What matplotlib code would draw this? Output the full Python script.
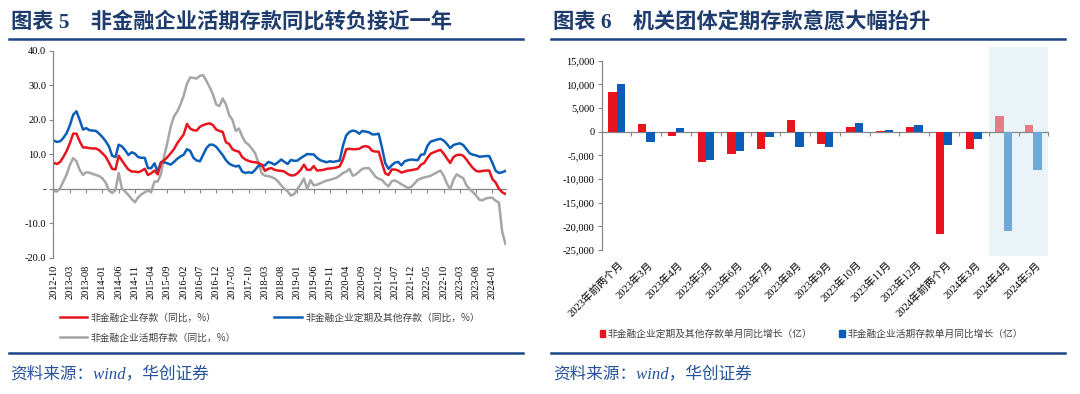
import numpy as np
import pandas as pd
import matplotlib
matplotlib.use('Agg')
import matplotlib.pyplot as plt
from matplotlib.lines import Line2D
from matplotlib.patches import Patch
from matplotlib.ticker import FuncFormatter

plt.rcParams['font.family'] = ['Liberation Serif', 'Noto Sans CJK SC']
plt.rcParams['axes.unicode_minus'] = False

# ---- 图表5: 同比 (%) , 2012-10 ~ 2024-05 ----
months = pd.date_range('2012-10-01', periods=140, freq='MS').strftime('%Y-%m').tolist()

deposit_yoy = [7.5, 7.2, 7.8, 9.3, 11.0, 13.3, 16.0, 16.0, 13.8, 12.0,
               12.0, 11.8, 11.7, 11.7, 11.2, 10.3, 9.3, 7.6, 5.8, 5.6,
               9.6, 8.2, 6.8, 5.6, 5.0, 5.0, 4.8, 5.2, 5.8, 4.0,
               4.5, 5.3, 4.2, 7.5, 8.3, 9.2, 10.3, 11.5, 13.2, 14.5,
               15.8, 18.8, 17.5, 17.0, 16.9, 18.0, 18.5, 18.8, 19.0, 18.5,
               17.2, 16.8, 16.5, 13.5, 13.0, 11.5, 11.0, 10.8, 9.2, 8.5,
               8.1, 7.8, 7.7, 7.5, 7.0, 5.2, 5.8, 6.0, 5.5, 5.3,
               5.2, 5.0, 4.3, 3.9, 3.9, 4.5, 5.5, 7.0, 5.5, 5.5,
               6.6, 5.3, 5.4, 5.5, 5.8, 5.9, 6.0, 6.2, 6.5, 8.5,
               11.5, 11.6, 11.5, 11.5, 11.6, 12.2, 12.4, 12.1, 11.0, 10.8,
               10.8, 7.5, 4.5, 4.0, 5.6, 5.6, 5.3, 4.7, 5.0, 5.3,
               5.4, 5.6, 5.8, 7.0, 7.5, 9.0, 10.2, 10.6, 11.0, 11.3,
               10.2, 8.8, 7.5, 9.2, 9.8, 9.9, 9.6, 8.5, 7.2, 6.0,
               5.2, 5.0, 5.2, 5.3, 5.3, 2.8, 1.8, 0.0, -1.0, -1.5]

term_yoy = [14.0, 13.6, 13.8, 14.8, 16.2, 18.5, 21.5, 22.5, 20.0, 17.2,
            17.6, 17.0, 16.9, 16.8, 16.0, 15.0, 13.8, 12.3, 9.6, 9.2,
            12.8, 12.3, 11.2, 9.8, 10.6, 10.2, 9.2, 9.0, 9.0, 6.0,
            6.0, 7.4, 5.0, 7.8, 7.7, 7.4, 7.0, 7.8, 8.7, 9.4,
            9.9, 11.5, 11.0, 9.0, 8.2, 8.0, 9.9, 11.8, 12.8, 12.8,
            12.2, 11.0, 9.8, 8.3, 7.3, 6.8, 6.5, 6.7, 5.0, 4.6,
            4.8, 4.6, 5.5, 6.7, 6.8, 6.8, 7.8, 7.5, 7.0, 7.7,
            8.5, 7.8, 7.2, 8.4, 8.1, 8.2, 8.9, 9.5, 10.1, 10.0,
            10.0, 9.0, 8.3, 8.0, 7.7, 8.0, 7.8, 8.0, 8.2, 12.5,
            15.5, 16.5, 16.9, 16.7, 16.0, 16.8, 16.6, 16.4, 15.8, 15.8,
            16.0, 12.0, 7.5, 5.8, 6.8, 7.6, 7.8, 6.8, 8.0, 8.3,
            8.5, 8.4, 8.3, 9.9, 10.0, 12.5, 13.7, 14.0, 14.3, 14.5,
            14.0, 13.0, 11.8, 12.7, 13.0, 13.2, 12.7, 11.5, 10.3, 9.9,
            9.7, 9.3, 9.4, 9.5, 9.5, 7.5, 5.2, 4.6, 4.8, 5.2]

demand_yoy = [-0.6, -0.8, 0.2, 2.2, 4.2, 7.0, 8.9, 8.0, 5.5, 4.0,
              4.8, 4.7, 4.3, 4.0, 3.7, 3.0, 1.8, -0.5, -1.2, -0.4,
              4.6, 0.0, -0.8, -1.8, -3.0, -3.9, -2.5, -1.6, -1.0, -0.6,
              -0.9, 2.1, 2.1, 4.3, 9.5, 13.5, 18.0, 21.0, 22.4, 24.5,
              27.0, 30.5, 32.3, 32.2, 32.0, 32.8, 33.0, 31.3, 29.5, 27.4,
              24.5, 24.0, 26.2, 24.5, 21.4, 20.0, 16.8, 17.5, 15.2, 13.5,
              12.8, 11.6, 10.3, 7.5, 4.5, 3.8, 3.7, 3.4, 3.0, 2.2,
              1.0, 0.0, -0.8, -2.0, -1.5, 0.0, 1.3, 3.0, -0.1, 2.5,
              1.0, 1.2, 1.6, 2.0, 2.4, 2.6, 2.9, 3.2, 3.8, 4.6,
              5.0, 5.8, 3.8, 4.2, 5.0, 5.8, 6.0, 6.0, 4.8, 3.5,
              2.9, 2.6, 1.5, 0.7, 2.2, 2.4, 1.9, 1.3, 0.8, 0.2,
              0.6, 1.5, 2.6, 3.0, 3.3, 3.5, 3.8, 4.3, 4.8, 5.3,
              3.8, 1.5, -0.1, 2.6, 4.2, 3.6, 3.1, 1.0, -0.1, -1.0,
              -2.0, -3.2, -3.3, -2.8, -2.6, -2.6, -3.5, -4.0, -12.5, -16.0]

line_labels = ['非金融企业存款（同比，%）',
               '非金融企业定期及其他存款（同比，%）',
               '非金融企业活期存款（同比，%）']

# ---- 图表6: 单月同比增长 (亿) ----
bar_cats = ['2023年前两个月', '2023年3月', '2023年4月', '2023年5月', '2023年6月',
            '2023年7月', '2023年8月', '2023年9月', '2023年10月', '2023年11月',
            '2023年12月', '2024年前两个月', '2024年3月', '2024年4月', '2024年5月']
term_chg = [8300, 1630, -850, -6450, -4680, -3760, 2550, -2550, 920, 200,
            1060, -21700, -3760, 3400, 1350]
demand_chg = [10070, -2200, 700, -6030, -4040, -1130, -3260, -3260, 1900, 300,
              1350, -2840, -1630, -21000, -8160]
bar_labels = ['非金融企业定期及其他存款单月同比增长（亿）',
              '非金融企业活期存款单月同比增长（亿）']
n_highlight = 2

W, H = 1080, 394
fig = plt.figure(figsize=(W / 100, H / 100), dpi=100)


def fx(px):
    return px / W


def fy(py):
    return 1 - py / H


navy = '#1B4584'
title_c = '#1E3C6E'
src_c = '#24529B'
red = '#E8141E'
blue = '#0B5EB8'
grey = '#A6A6A6'
red_lt = '#E27D87'
blue_lt = '#70A8D8'
shade = '#EAF4F8'
axis_c = '#868686'

# titles, rules and source notes
for x0, x1, title in [(8.6, 522.5, '图表 5　非金融企业活期存款同比转负接近一年'),
                      (551, 1065, '图表 6　机关团体定期存款意愿大幅抬升')]:
    fig.text(fx(x0 + 2), fy(22.5), title, fontsize=15.3, fontweight='bold',
             color=title_c, va='center', ha='left')
    for yy in (39.3, 353.3):
        fig.add_artist(Line2D([fx(x0), fx(x1)], [fy(yy), fy(yy)], color=navy, lw=1.8))
    fig.text(fx(x0 + 2), fy(374.3), '资料来源：wind，华创证券', fontsize=12,
             style='italic', color=src_c, va='center', ha='left')

# ---- left chart ----
ax1 = fig.add_axes([fx(53.3), fy(257.7), 452.8 / W, 206.7 / H])
x = np.arange(len(months))
ax1.plot(x, demand_yoy, color=grey, lw=1.8, label=line_labels[2])
ax1.plot(x, term_yoy, color=blue, lw=1.8, label=line_labels[1])
ax1.plot(x, deposit_yoy, color=red, lw=1.8, label=line_labels[0])
ax1.set_xlim(-0.12, 139.2)
ax1.set_ylim(-20, 40)
ax1.set_yticks(np.arange(-20, 41, 10))
ax1.yaxis.set_major_formatter(FuncFormatter(lambda v, p: '-' if v == 0 else f'{v:.1f}'))
ax1.set_xticks(x[::5], [months[i] for i in x[::5]], rotation=90, fontsize=7.5)
ax1.tick_params(axis='x', length=0, pad=5)
ax1.tick_params(axis='y', length=3, width=0.8, color=axis_c, labelsize=7.5, pad=2)
for s in ('top', 'right', 'bottom'):
    ax1.spines[s].set_visible(False)
ax1.spines['left'].set_color(axis_c)
ax1.spines['left'].set_linewidth(0.9)
sec1 = ax1.secondary_xaxis(1 / 3)
sec1.set_alignment('bottom')
sec1.set_xticks(x[5::5])
sec1.tick_params(direction='out', length=3, width=0.8, color=axis_c, labelbottom=False)
sec1.spines['bottom'].set_color(axis_c)
sec1.spines['bottom'].set_linewidth(0.9)

h = {l.get_label(): l for l in ax1.get_lines()}
fig.legend([h[line_labels[0]], h[line_labels[2]], h[line_labels[1]]],
           [line_labels[0], line_labels[2], line_labels[1]],
           ncol=2, loc='upper left', bbox_to_anchor=(fx(59.6), fy(312.5)),
           frameon=False, borderpad=0, borderaxespad=0,
           handlelength=2.8, handletextpad=0.35, labelspacing=1.05,
           columnspacing=4.0, labelcolor='#404040',
           prop={'family': 'Noto Sans CJK SC', 'size': 7})

# ---- right chart ----
ax2 = fig.add_axes([fx(601.7), fy(250), 446.6 / W, 189.3 / H])
pos = np.arange(len(bar_cats))
w = 0.28
n_base = len(bar_cats) - n_highlight
red_cols = [red] * n_base + [red_lt] * n_highlight
blue_cols = [blue] * n_base + [blue_lt] * n_highlight
ax2.axvspan(n_base - 0.5, len(bar_cats) - 0.5, ymin=-0.032, ymax=1.071,
            color=shade, lw=0, zorder=0, clip_on=False)
ax2.bar(pos - w / 2, term_chg, w, color=red_cols, zorder=2)
ax2.bar(pos + w / 2, demand_chg, w, color=blue_cols, zorder=2)
ax2.set_xlim(-0.5, len(bar_cats) - 0.5)
ax2.set_ylim(-25000, 15000)
ax2.set_yticks(np.arange(-25000, 15001, 5000))
ax2.yaxis.set_major_formatter(FuncFormatter(lambda v, p: f'{v:,.0f}'))
ax2.set_xticks(pos + 0.05, bar_cats, rotation=45, ha='right', va='top',
               rotation_mode='anchor', fontsize=7.6)
ax2.tick_params(axis='x', length=0, pad=7)
ax2.tick_params(axis='y', length=3, width=0.8, color=axis_c, labelsize=7.5, pad=2)
for s in ('top', 'right', 'bottom'):
    ax2.spines[s].set_visible(False)
ax2.spines['left'].set_color(axis_c)
ax2.spines['left'].set_linewidth(0.9)
ax2.set_facecolor('none')
sec2 = ax2.secondary_xaxis(25000 / 40000)
sec2.set_alignment('bottom')
sec2.set_xticks(pos + 0.5)
sec2.tick_params(direction='out', length=3, width=0.8, color=axis_c, labelbottom=False)
sec2.spines['bottom'].set_color(axis_c)
sec2.spines['bottom'].set_linewidth(0.9)

fig.legend([Patch(color=red), Patch(color=blue)], bar_labels,
           ncol=2, loc='upper left', bbox_to_anchor=(fx(599.5), fy(329)),
           frameon=False, borderpad=0, borderaxespad=0,
           handlelength=0.6, handleheight=0.6, handletextpad=0.2,
           columnspacing=2.8, labelcolor='#404040',
           prop={'family': 'Noto Sans CJK SC', 'size': 7})

fig.savefig('out.png', dpi=100)
